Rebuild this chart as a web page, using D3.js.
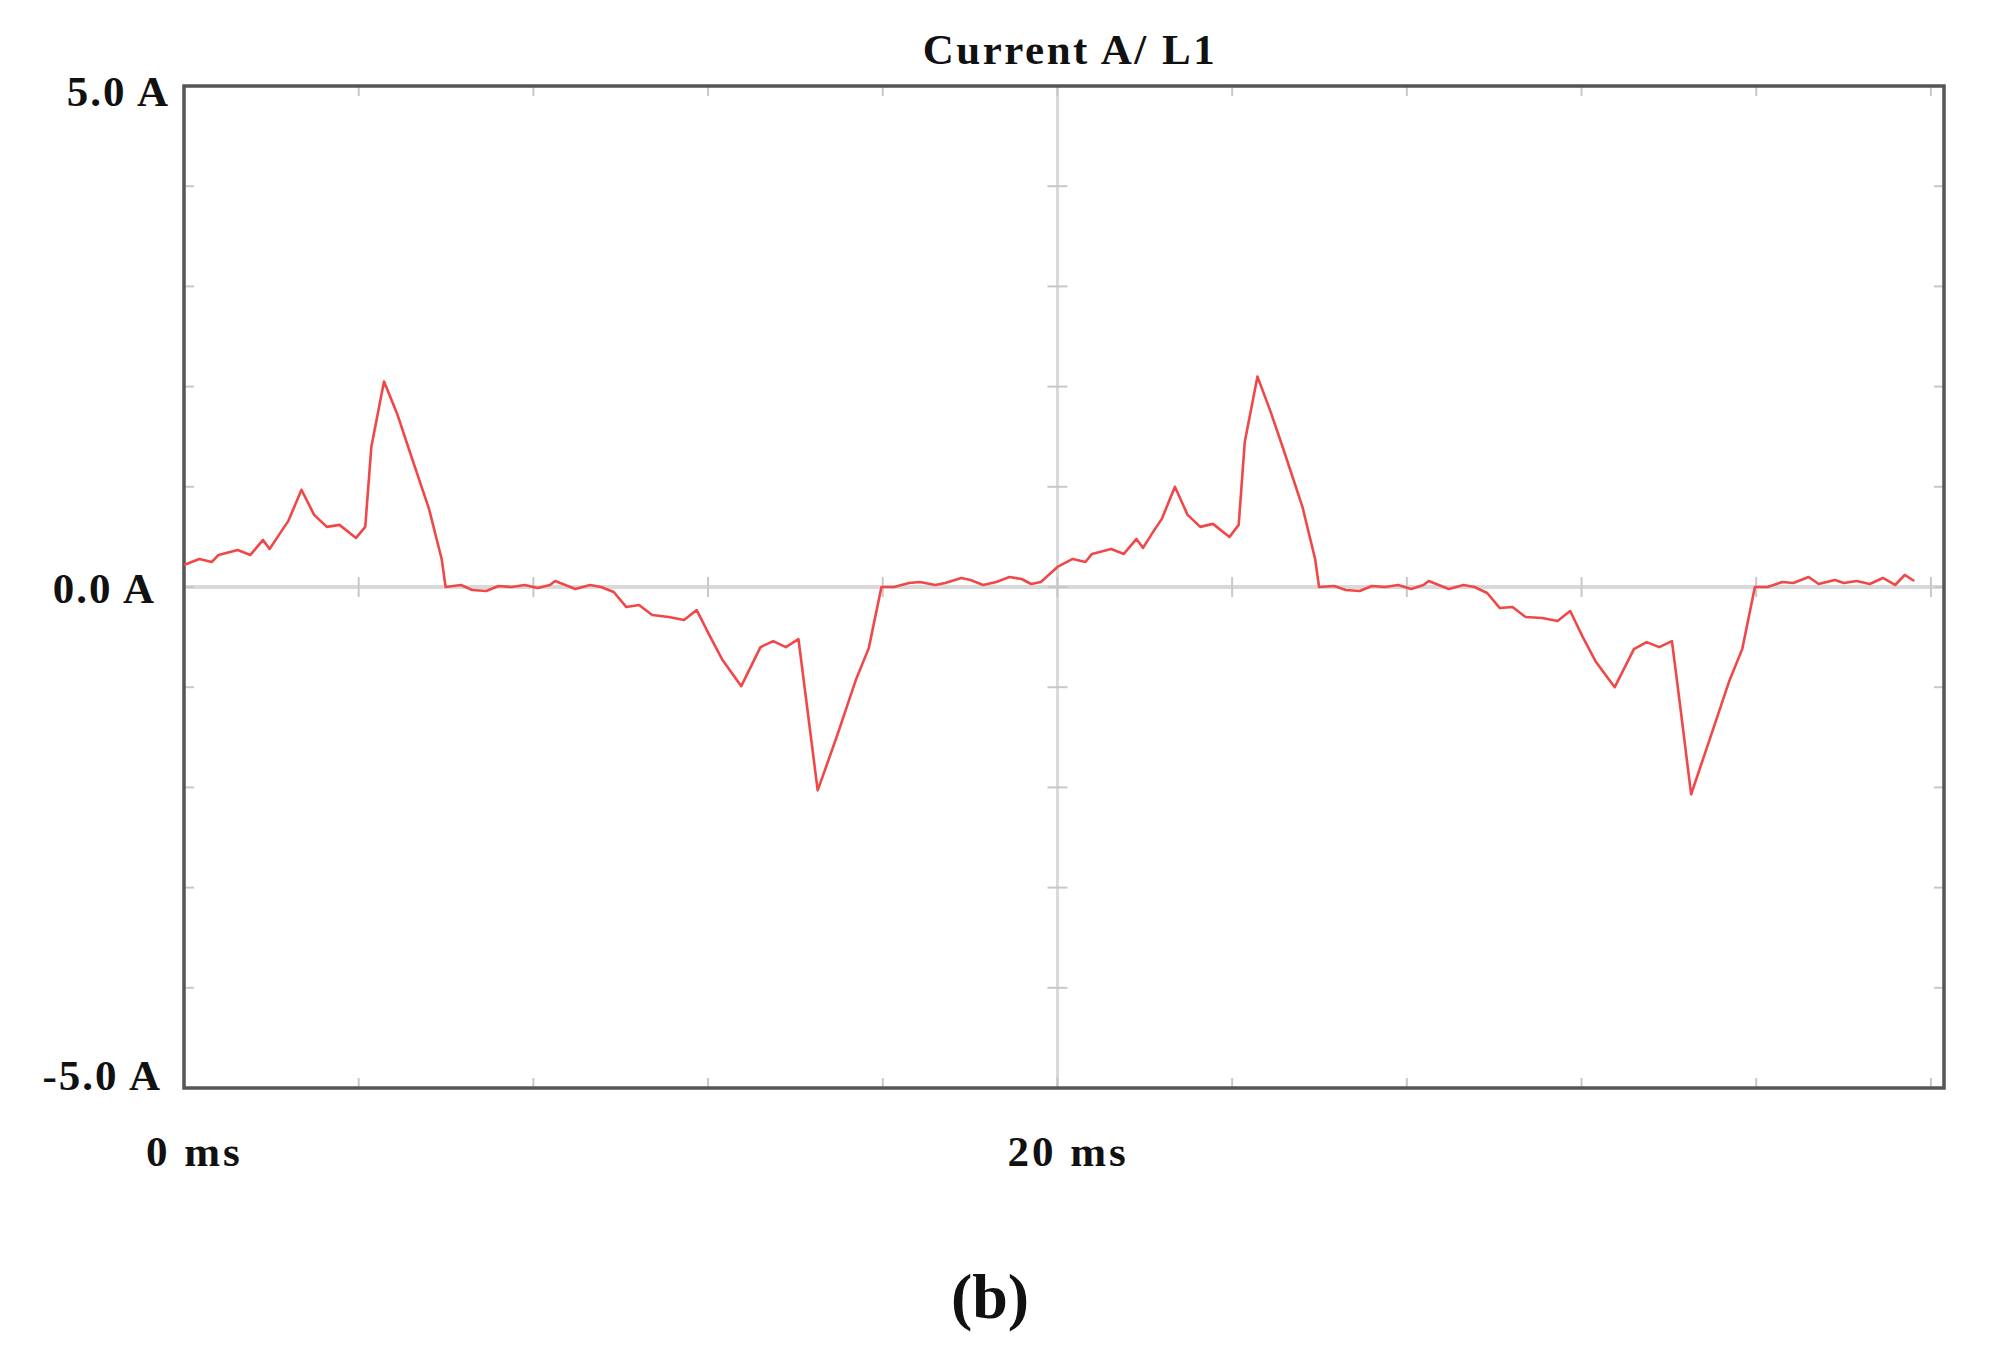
<!DOCTYPE html>
<html><head><meta charset="utf-8">
<script src="https://cdn.jsdelivr.net/npm/d3@7"></script>
<style>body{margin:0;background:#fff}text{font-family:"Liberation Serif","Times New Roman",serif;font-weight:bold;fill:#111}</style>
</head><body><svg id="c" width="2002" height="1353"></svg>
<script>
const timeMs = [0,0.35,0.64,0.79,1.23,1.52,1.81,1.96,2.19,2.39,2.69,2.98,3.27,3.56,3.94,4.15,4.29,4.58,4.88,5.17,5.61,5.9,5.99,6.34,6.6,6.92,7.2,7.5,7.8,8.1,8.38,8.5,8.96,9.3,9.55,9.84,10.13,10.42,10.72,11.1,11.45,11.74,12.03,12.32,12.76,13.2,13.49,13.78,14.07,14.28,14.51,14.95,15.39,15.68,15.97,16.26,16.6,16.85,17.2,17.43,17.8,18.01,18.3,18.6,18.9,19.18,19.4,19.62,
 20.0,20.35,20.64,20.79,21.23,21.52,21.81,21.96,22.19,22.39,22.69,22.98,23.27,23.56,23.94,24.15,24.29,24.58,24.88,25.17,25.61,25.9,25.99,26.34,26.6,26.92,27.2,27.5,27.8,28.1,28.38,28.5,28.96,29.3,29.55,29.84,30.13,30.42,30.72,31.1,31.45,31.74,32.03,32.32,32.76,33.2,33.49,33.78,34.07,34.28,34.51,34.95,35.39,35.68,35.97,36.26,36.6,36.85,37.2,37.43,37.8,38.01,38.3,38.6,38.9,39.18,39.4,39.62,39.9];
const currentA = [0.22,0.28,0.25,0.32,0.37,0.32,0.47,0.38,0.53,0.66,0.97,0.72,0.6,0.62,0.49,0.6,1.4,2.05,1.73,1.35,0.78,0.28,0.0,0.02,-0.03,-0.04,0.01,0.0,0.02,-0.01,0.02,0.06,-0.02,0.02,0.0,-0.05,-0.2,-0.18,-0.28,-0.3,-0.33,-0.23,-0.48,-0.72,-0.99,-0.6,-0.54,-0.6,-0.52,-1.24,-2.03,-1.49,-0.92,-0.61,0.0,0.0,0.04,0.05,0.02,0.04,0.09,0.07,0.02,0.05,0.1,0.08,0.03,0.05,
 0.2,0.28,0.25,0.33,0.38,0.33,0.48,0.39,0.55,0.68,1.0,0.72,0.6,0.63,0.5,0.62,1.45,2.1,1.75,1.38,0.8,0.28,0.0,0.01,-0.03,-0.04,0.01,0.0,0.02,-0.02,0.02,0.06,-0.02,0.02,0.0,-0.06,-0.21,-0.2,-0.3,-0.31,-0.34,-0.24,-0.5,-0.74,-1.0,-0.62,-0.55,-0.6,-0.54,-1.26,-2.07,-1.5,-0.93,-0.62,0.0,0.0,0.05,0.04,0.1,0.03,0.07,0.04,0.06,0.03,0.09,0.02,0.12,0.06];
const yTickLabels = ["5.0 A","0.0 A","-5.0 A"];
const yTickValues = [5,0,-5];
const xTickLabels = ["0 ms","20 ms"];
const xTickValues = [0,20];
const title = "Current A/ L1";
const caption = "(b)";

const svg = d3.select("#c");
const L=184,R=1944,T=86,B=1088;
const x = d3.scaleLinear().domain([0,40.3]).range([L,R]);
const y = d3.scaleLinear().domain([-5,5]).range([B,T]);

svg.append("line").attr("x1",L).attr("x2",R).attr("y1",y(0)).attr("y2",y(0)).attr("stroke","#d9d9d9").attr("stroke-width",4);
svg.append("line").attr("x1",x(20)).attr("x2",x(20)).attr("y1",T).attr("y2",B).attr("stroke","#d9d9d9").attr("stroke-width",3);

const tk = svg.append("g").attr("stroke","#c8c8c8").attr("stroke-width",2);
d3.range(4,40.1,4).forEach(v=>{
  [T,y(0),B].forEach(yy=>{
    tk.append("line").attr("x1",x(v)).attr("x2",x(v)).attr("y1",yy-(yy===T?0:10)).attr("y2",yy+(yy===B?0:10));
  });
});
d3.range(-4,4.1,1).forEach(v=>{
  [L,x(20),R].forEach(xx=>{
    tk.append("line").attr("x1",xx-(xx===L?0:10)).attr("x2",xx+(xx===R?0:10)).attr("y1",y(v)).attr("y2",y(v));
  });
});

svg.append("rect").attr("x",L).attr("y",T).attr("width",R-L).attr("height",B-T).attr("fill","none").attr("stroke","#555").attr("stroke-width",3.5);

const pts = timeMs.map((t,i)=>[t,currentA[i]]);
svg.append("path").datum(pts).attr("fill","none").attr("stroke","#f04848").attr("stroke-width",2.6)
  .attr("stroke-linejoin","round")
  .attr("d",d3.line().x(d=>x(d[0])).y(d=>y(d[1])));

svg.append("text").attr("x",1070).attr("y",64).attr("text-anchor","middle").attr("font-size",43).attr("letter-spacing",2.5).text(title);
const yX=[170,156,162], yY=[106,603,1090];
yTickValues.forEach((v,i)=>{
  svg.append("text").attr("x",yX[i]).attr("y",yY[i]).attr("text-anchor","end").attr("font-size",43).attr("letter-spacing",2).text(yTickLabels[i]);
});
xTickValues.forEach((v,i)=>{
  svg.append("text").attr("x",x(v)-38-(i*12)).attr("y",1166).attr("text-anchor","start").attr("font-size",43).attr("letter-spacing",3).text(xTickLabels[i]);
});
svg.append("text").attr("x",990).attr("y",1318).attr("text-anchor","middle").attr("font-size",64).text(caption);
</script></body></html>
